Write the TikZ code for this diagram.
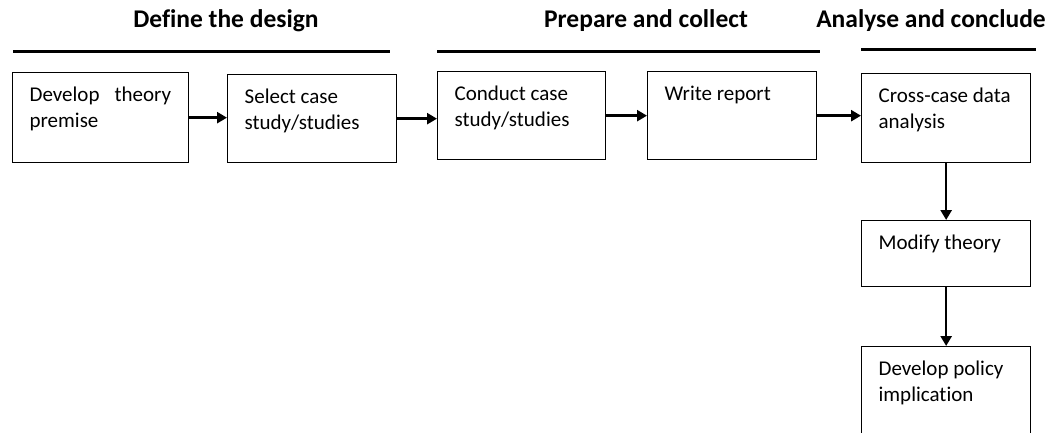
\documentclass[tikz,border=0pt]{standalone}
\usepackage{fontspec}
\setmainfont{Carlito}[Ligatures=NoCommon]
\usetikzlibrary{arrows.meta}
\newcommand\bxtext[3]{\parbox[t][#2][t]{#1}{\rule{0pt}{29bp}#3}}
\tikzset{
  box/.style={draw, line width=1.3bp, anchor=north west, inner xsep=17bp, inner ysep=0pt, align=left,
    font=\fontsize{21bp}{26bp}\selectfont},
  head/.style={anchor=base, font=\fontsize{25.5bp}{30bp}\selectfont\bfseries, inner sep=0pt},
  rulel/.style={line width=3bp},
  conn/.style={line width=2.6bp, -{Triangle[length=10bp,width=11bp]}},
}
\begin{document}
\begin{tikzpicture}[x=1bp,y=-1bp]
\useasboundingbox (0,0) rectangle (1052,432);
\clip (0,0) rectangle (1052,432);
% headings
\node[head] (h1) at (226,27) {Define the design};
\node[head] (h2) at (646,27) {Prepare and collect};
\node[head] (h3) at (931,27) {Analyse and conclude};
\draw[rulel] (13,51) -- (390,51);
\draw[rulel] (437,51) -- (820,51);
\draw[rulel] (861,49) -- (1036,49);
% boxes
\node[box] (b1) at (12,72) {\bxtext{142bp}{90bp}{Develop\hspace{15bp}theory\\premise}};
\node[box] (b2) at (227,74) {\bxtext{135bp}{88bp}{Select case\\study/studies}};
\node[box] (b3) at (437,71) {\bxtext{134bp}{88bp}{Conduct case\\study/studies}};
\node[box] (b4) at (647,71) {\bxtext{135bp}{88bp}{Write report}};
\node[box] (b5) at (861,73) {\bxtext{135bp}{89bp}{Cross-case data\\analysis}};
\node[box] (b6) at (861,220) {\bxtext{135bp}{66bp}{Modify theory}};
\node[box] (b7) at (861,346) {\bxtext{135bp}{110bp}{Develop policy\\implication}};
% connectors
\draw[conn] (b1.east) -- (b2.west |- b1.east);
\draw[conn] (b2.east) -- (b3.west |- b2.east);
\draw[conn] (b3.east) -- (b4.west |- b3.east);
\draw[conn] (b4.east) -- (b5.west |- b4.east);
\draw[conn] (b5.south) -- (b6.north);
\draw[conn] (b6.south) -- (b7.north);
\end{tikzpicture}
\end{document}
